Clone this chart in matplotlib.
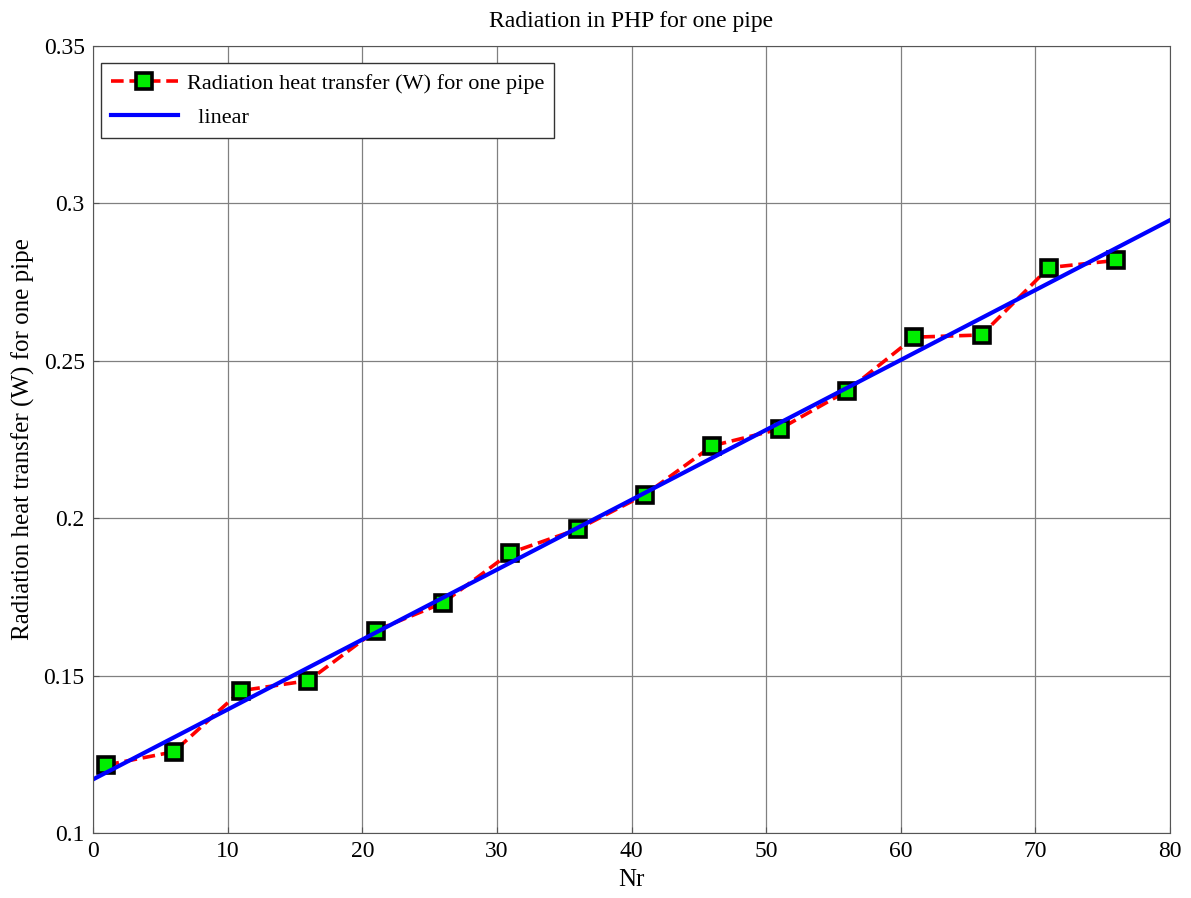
import numpy as np
import matplotlib
matplotlib.use("Agg")
import matplotlib.pyplot as plt

# values
nr = [1, 6, 11, 16, 21, 26, 31, 36, 41, 46, 51, 56, 61, 66, 71, 76]
q_rad = [0.1216, 0.1258, 0.1452, 0.1484, 0.1643, 0.1731, 0.1890, 0.1965,
         0.2075, 0.2230, 0.2283, 0.2404, 0.2575, 0.2582, 0.2796, 0.2819]
fit_x = [0, 80]

plt.rcParams['font.family'] = ['Liberation Serif', 'DejaVu Serif']

fig = plt.figure(figsize=(11.91, 8.98), dpi=100)
ax = fig.add_axes([0.0781, 0.0724, 0.9043, 0.8764])

# linear fit of the data
coef = np.polyfit(nr, q_rad, 1)
fit_y = np.polyval(coef, fit_x)

ax.plot(nr, q_rad, linestyle="--", color="red", linewidth=2.6, dashes=(3.5, 1.6),
        marker="s", markersize=12, markerfacecolor="#00ee00", markeredgecolor="black",
        markeredgewidth=2.6, label="Radiation heat transfer (W) for one pipe")
ax.plot(fit_x, fit_y, color="blue", linewidth=3, label="  linear")

ax.set_xlim(0, 80)
ax.set_ylim(0.1, 0.35)
ax.set_xticks(range(0, 81, 10))
ax.set_yticks([0.1, 0.15, 0.2, 0.25, 0.3, 0.35])
ax.set_yticklabels(["0.1", "0.15", "0.2", "0.25", "0.3", "0.35"])
ax.tick_params(direction="in", labelsize=17, length=4, color="#555555", pad=6)
ax.grid(True, color="#808080", linewidth=0.9)
for s in ax.spines.values():
    s.set_color("#555555")

ax.set_xlabel("Nr", fontsize=18, labelpad=5)
ax.set_ylabel("Radiation heat transfer (W) for one pipe", fontsize=18, labelpad=6)
ax.set_title("Radiation in PHP for one pipe", fontsize=17, pad=14)

leg = ax.legend(loc="upper left", bbox_to_anchor=(0.0074, 0.978), fontsize=16,
                fancybox=False, framealpha=1, edgecolor="#333333",
                handlelength=3.0, borderaxespad=0, borderpad=0.45,
                labelspacing=0.6, handletextpad=0.4)
leg.get_frame().set_linewidth(1)

fig.savefig("out.png", dpi=100)
